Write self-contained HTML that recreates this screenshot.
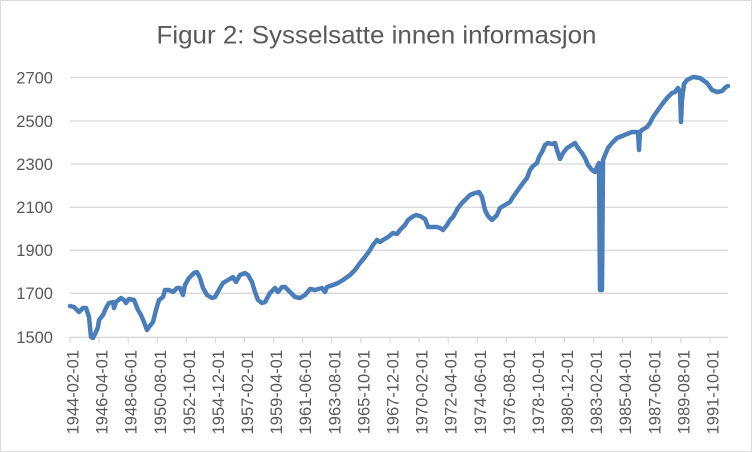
<!DOCTYPE html>
<html><head><meta charset="utf-8"><style>
html,body{margin:0;padding:0;background:#fff;}
svg{display:block;}
text{font-family:"Liberation Sans",sans-serif;fill:#595959;}
</style></head><body>
<svg width="752" height="452" viewBox="0 0 752 452" xmlns="http://www.w3.org/2000/svg">
<rect x="0.5" y="0.5" width="751" height="451" fill="#fff" stroke="#d9d9d9" stroke-width="1"/>
<text x="376.5" y="43.3" font-size="25" text-anchor="middle" textLength="440" lengthAdjust="spacingAndGlyphs">Figur 2: Sysselsatte innen informasjon</text>
<g stroke="#d9d9d9" stroke-width="1.3">
<line x1="70" y1="77.5" x2="728" y2="77.5"/>
<line x1="70" y1="121" x2="728" y2="121"/>
<line x1="70" y1="164" x2="728" y2="164"/>
<line x1="70" y1="207.3" x2="728" y2="207.3"/>
<line x1="70" y1="250.3" x2="728" y2="250.3"/>
<line x1="70" y1="293.3" x2="728" y2="293.3"/>
<line x1="70" y1="337.3" x2="728" y2="337.3"/>
</g>
<g stroke="#d9d9d9" stroke-width="1.3">
<line x1="70" y1="337" x2="70" y2="343"/><line x1="99.1" y1="337" x2="99.1" y2="343"/><line x1="128.2" y1="337" x2="128.2" y2="343"/><line x1="157.3" y1="337" x2="157.3" y2="343"/><line x1="186.4" y1="337" x2="186.4" y2="343"/><line x1="215.5" y1="337" x2="215.5" y2="343"/><line x1="244.5" y1="337" x2="244.5" y2="343"/><line x1="273.6" y1="337" x2="273.6" y2="343"/><line x1="302.7" y1="337" x2="302.7" y2="343"/><line x1="331.8" y1="337" x2="331.8" y2="343"/><line x1="360.9" y1="337" x2="360.9" y2="343"/><line x1="390" y1="337" x2="390" y2="343"/><line x1="419.1" y1="337" x2="419.1" y2="343"/><line x1="448.2" y1="337" x2="448.2" y2="343"/><line x1="477.3" y1="337" x2="477.3" y2="343"/><line x1="506.4" y1="337" x2="506.4" y2="343"/><line x1="535.5" y1="337" x2="535.5" y2="343"/><line x1="564.5" y1="337" x2="564.5" y2="343"/><line x1="593.6" y1="337" x2="593.6" y2="343"/><line x1="622.7" y1="337" x2="622.7" y2="343"/><line x1="651.8" y1="337" x2="651.8" y2="343"/><line x1="680.9" y1="337" x2="680.9" y2="343"/><line x1="710" y1="337" x2="710" y2="343"/>
</g>
<g font-size="16.5" text-anchor="end">
<text x="53" y="83.4">2700</text>
<text x="53" y="126.9">2500</text>
<text x="53" y="169.9">2300</text>
<text x="53" y="213.2">2100</text>
<text x="53" y="256.2">1900</text>
<text x="53" y="299.2">1700</text>
<text x="53" y="343.2">1500</text>
</g>
<g font-size="16.5" text-anchor="end">
<text transform="translate(78.5,350) rotate(-90)">1944-02-01</text>
<text transform="translate(107.6,350) rotate(-90)">1946-04-01</text>
<text transform="translate(136.7,350) rotate(-90)">1948-06-01</text>
<text transform="translate(165.8,350) rotate(-90)">1950-08-01</text>
<text transform="translate(194.9,350) rotate(-90)">1952-10-01</text>
<text transform="translate(224,350) rotate(-90)">1954-12-01</text>
<text transform="translate(253,350) rotate(-90)">1957-02-01</text>
<text transform="translate(282.1,350) rotate(-90)">1959-04-01</text>
<text transform="translate(311.2,350) rotate(-90)">1961-06-01</text>
<text transform="translate(340.3,350) rotate(-90)">1963-08-01</text>
<text transform="translate(369.4,350) rotate(-90)">1965-10-01</text>
<text transform="translate(398.5,350) rotate(-90)">1967-12-01</text>
<text transform="translate(427.6,350) rotate(-90)">1970-02-01</text>
<text transform="translate(456.7,350) rotate(-90)">1972-04-01</text>
<text transform="translate(485.8,350) rotate(-90)">1974-06-01</text>
<text transform="translate(514.9,350) rotate(-90)">1976-08-01</text>
<text transform="translate(544,350) rotate(-90)">1978-10-01</text>
<text transform="translate(573,350) rotate(-90)">1980-12-01</text>
<text transform="translate(602.1,350) rotate(-90)">1983-02-01</text>
<text transform="translate(631.2,350) rotate(-90)">1985-04-01</text>
<text transform="translate(660.3,350) rotate(-90)">1987-06-01</text>
<text transform="translate(689.4,350) rotate(-90)">1989-08-01</text>
<text transform="translate(718.5,350) rotate(-90)">1991-10-01</text>
</g>
<polyline fill="none" stroke="#4a7ebb" stroke-width="4.5" stroke-linejoin="round" stroke-linecap="round" points="70,306 74,307 79,312 83,308 86,308 89,317 91,337 93,338 96,332 98,327 99,320 103,315 106,308 109,303 113,302 114,308 116,302 121,298 124,300 126,303 129,299 134,300 138,310 141,315 144,322 147,330 149,327 153,322 156,310 159,300 163,297 165,290 169,290 173,292 177,288 180,288 183,295 185,285 189,278 194,273 197,272 200,278 203,288 207,295 212,298 215,297 220,288 223,283 228,280 233,277 236,282 240,275 245,273 248,275 252,282 255,292 258,300 262,303 265,302 270,293 275,288 278,292 282,287 285,287 290,292 295,297 300,298 305,295 310,289 315,290 322,288 325,292 327,287 333,285 338,283 343,280 350,275 355,270 360,263 365,257 370,250 373,245 377,240 380,242 383,240 388,237 393,233 397,234 400,230 405,225 408,220 412,217 416,215 420,216 425,219 428,227 432,227 437,227 440,228 443,230 447,225 450,220 453,217 458,208 462,203 467,198 470,195 475,193 479,192 482,197 485,210 488,216 492,220 497,215 500,208 505,205 510,202 513,197 518,190 523,183 527,178 530,170 533,166 537,163 539,157 542,152 545,145 548,143 552,144 555,143 557,150 560,159 563,153 567,148 572,145 575,143 578,148 582,153 585,158 588,165 592,170 595,172 597,167 599,163 600,290 602,290 603,160 605,155 608,148 612,143 617,138 622,136 627,134 632,132 637,132 638,132 639,150 640,132 642,130 647,127 650,123 653,117 658,110 663,103 668,97 672,93 675,92 678,88 680,92 681,122 682,100 684,84 687,80 693,77 700,78 707,83 712,90 717,92 722,91 726,87 728,86"/>
</svg>
</body></html>
